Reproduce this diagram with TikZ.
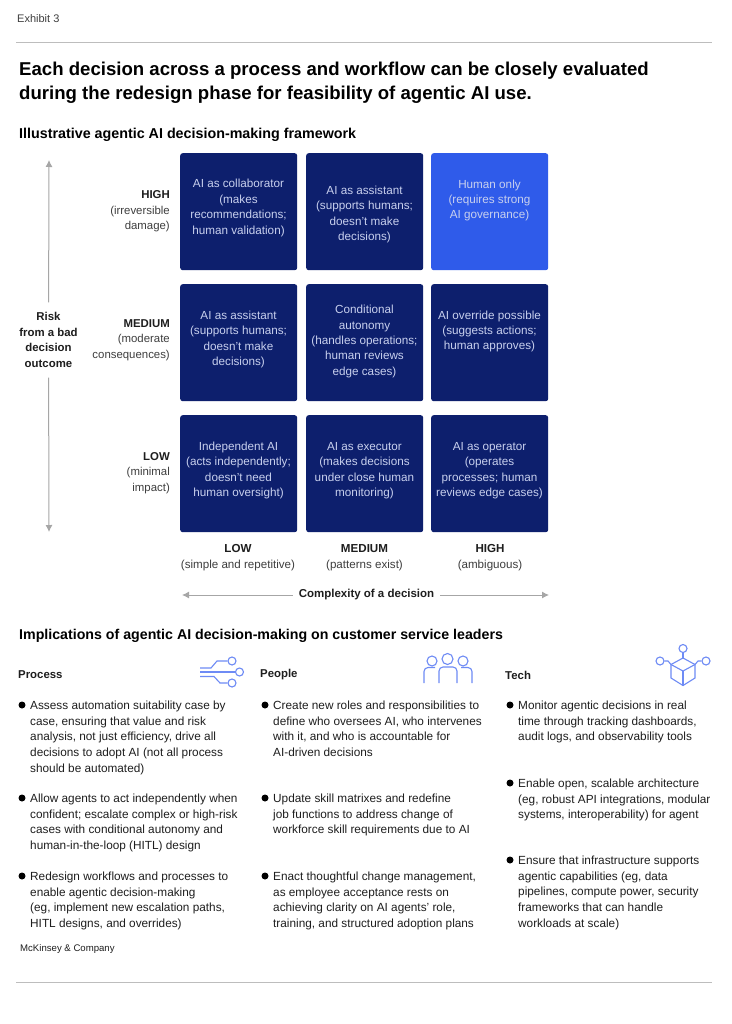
\documentclass[tikz,border=0pt]{standalone}
\usepackage{fontspec}
\setmainfont{Liberation Sans}
\usetikzlibrary{arrows.meta}
\definecolor{navy}{HTML}{0D1F6D}
\definecolor{brightblue}{HTML}{2F5BEA}
\definecolor{celltext}{HTML}{C8D0EE}
\definecolor{iconblue}{HTML}{6E8BF5}
\definecolor{ink}{HTML}{1E1E1E}
\definecolor{soft}{HTML}{3E3E3E}
\definecolor{rulegray}{HTML}{BDBDBD}
\definecolor{axisgray}{HTML}{A6A6A6}
\tikzset{
  cellbox/.style={fill=navy,rounded corners=2.5pt,minimum width=117pt,minimum height=117pt,inner sep=0pt,anchor=north west},
  celltxt/.style={text=celltext,align=center,inner sep=0pt,font=\fontsize{11.7}{15.45}\selectfont},
  rowlab/.style={text=soft,align=right,anchor=east,inner sep=0pt,font=\fontsize{11.4}{15.45}\selectfont},
  collab/.style={text=soft,align=center,inner sep=0pt,font=\fontsize{11.6}{16}\selectfont},
  bodytxt/.style={text=ink,align=left,anchor=north west,inner sep=0pt,font=\fontsize{11.8}{15.6}\selectfont},
  dot/.style={circle,fill=black,minimum size=7pt,inner sep=0pt},
  head/.style={text=black,align=left,anchor=west,inner sep=0pt,font=\fontsize{14.3}{18}\bfseries\selectfont},
  colhead/.style={text=ink,anchor=west,inner sep=0pt,font=\fontsize{11.4}{15}\bfseries\selectfont},
  axisline/.style={draw=axisgray,line width=1pt,-{Latex[length=7pt,width=7pt]}},
  iconline/.style={draw=iconblue,line width=1.1pt},
  iconring/.style={circle,draw=iconblue,line width=1.1pt,inner sep=0pt}
}
\begin{document}
\begin{tikzpicture}[x=1pt,y=-1pt]
\useasboundingbox (0,0) rectangle (731,1024);
\fill[white] (0,0) rectangle (731,1024);
% header
\node[anchor=west,inner sep=0pt,text=soft,font=\fontsize{11}{13}\selectfont] (exhibit) at (17,19) {Exhibit 3};
\coordinate (r1a) at (16,42.5); \coordinate (r1b) at (712,42.5);
\draw[rulegray,line width=0.7pt] (r1a) -- (r1b);
\node[anchor=north west,inner sep=0pt,align=left,text=black,font=\fontsize{18.6}{24.2}\bfseries\selectfont] (title) at (19,62) {Each decision across a process and workflow can be closely evaluated\\during the redesign phase for feasibility of agentic AI use.};
\node[head] (sec1) at (19,134.5) {Illustrative agentic AI decision-making framework};
% grid
\node[cellbox] (c11) at (180,153) {};
\node[cellbox] (c12) at (306,153) {};
\node[cellbox,fill=brightblue] (c13) at (431,153) {};
\node[cellbox] (c21) at (180,284) {};
\node[cellbox] (c22) at (306,284) {};
\node[cellbox] (c23) at (431,284) {};
\node[cellbox] (c31) at (180,415) {};
\node[cellbox] (c32) at (306,415) {};
\node[cellbox] (c33) at (431,415) {};
\node[celltxt] (t11) at (238.5,208) {AI as collaborator\\(makes\\recommendations;\\human validation)};
\node[celltxt] (t12) at (364.5,214.5) {AI as assistant\\(supports humans;\\doesn't make\\decisions)};
\node[celltxt] (t13) at (489.5,200.5) {Human only\\(requires strong\\AI governance)};
\node[celltxt] (t21) at (238.5,339.5) {AI as assistant\\(supports humans;\\doesn't make\\decisions)};
\node[celltxt] (t22) at (364.5,341.5) {Conditional\\autonomy\\(handles operations;\\human reviews\\edge cases)};
\node[celltxt] (t23) at (489.5,331.5) {AI override possible\\(suggests actions;\\human approves)};
\node[celltxt] (t31) at (238.5,470.5) {Independent AI\\(acts independently;\\doesn't need\\human oversight)};
\node[celltxt] (t32) at (364.5,470.5) {AI as executor\\(makes decisions\\under close human\\monitoring)};
\node[celltxt] (t33) at (489.5,470.5) {AI as operator\\(operates\\processes; human\\reviews edge cases)};
% row labels
\node[rowlab] (rh) at (170,211.5) {\textcolor{ink}{\bfseries HIGH}\\(irreversible\\damage)};
\node[rowlab] (rm) at (170,340) {\textcolor{ink}{\bfseries MEDIUM}\\(moderate\\consequences)};
\node[rowlab] (rl) at (170,473) {\textcolor{ink}{\bfseries LOW}\\(minimal\\impact)};
% column labels
\node[collab] (cl) at (238,558) {\textcolor{ink}{\bfseries LOW}\\(simple and repetitive)};
\node[collab] (cm) at (364.5,558) {\textcolor{ink}{\bfseries MEDIUM}\\(patterns exist)};
\node[collab] (ch) at (490,558) {\textcolor{ink}{\bfseries HIGH}\\(ambiguous)};
% axes
\node[align=center,text=ink,inner xsep=0pt,inner ysep=10pt,font=\fontsize{11.4}{15.45}\bfseries\selectfont] (risk) at (48.5,340) {Risk\\from a bad\\decision\\outcome};
\coordinate (rtop) at (49,160); \coordinate (rbot) at (49,532);
\draw[axisline] (risk) -- (rtop);
\draw[axisline] (risk) -- (rbot);
\node[text=ink,inner xsep=6pt,inner ysep=2pt,font=\fontsize{11.5}{15}\bfseries\selectfont] (cplx) at (366.5,595) {Complexity of a decision};
\coordinate (cleft) at (182,595); \coordinate (cright) at (549,595);
\draw[axisline] (cplx) -- (cleft);
\draw[axisline] (cplx) -- (cright);
% implications
\node[head,font=\fontsize{14.2}{18}\bfseries\selectfont] (sec2) at (19,635.5) {Implications of agentic AI decision-making on customer service leaders};
\node[colhead] (hproc) at (18,675) {Process};
\node[colhead] (hpeop) at (260,675) {People};
\node[colhead] (htech) at (505,675) {Tech};
% process icon
\node[iconring,minimum size=8pt] (pa) at (232,661) {};
\node[iconring,minimum size=8pt] (pb) at (239.5,672) {};
\node[iconring,minimum size=8pt] (pc) at (232,683) {};
\coordinate (pa0) at (200,668); \coordinate (pb0) at (200,672); \coordinate (pc0) at (200,676.5);
\draw[iconline] (pa0) -- (211,668) -- (217,661) -- (pa);
\draw[iconline] (pb0) -- (pb);
\draw[iconline] (pc0) -- (214,676.5) -- (220,683) -- (pc);
% people icon
\node[iconring,minimum size=10pt] (ua) at (432,661) {};
\node[iconring,minimum size=11pt] (ub) at (447.5,659) {};
\node[iconring,minimum size=10pt] (uc) at (463,661) {};
\draw[iconline,rounded corners=4pt] (424,683) -- (424,667.5) -- (435,667.5);
\draw[iconline,rounded corners=4pt] (439,683) -- (439,667) -- (457,667) -- (457,683);
\draw[iconline,rounded corners=4pt] (461,667.5) -- (472,667.5) -- (472,683);
% tech icon
\node[iconring,minimum size=8pt] (ka) at (683,648.5) {};
\node[iconring,minimum size=8pt] (kb) at (660,661) {};
\node[iconring,minimum size=8pt] (kc) at (706,661) {};
\coordinate (kt) at (683,658); \coordinate (kl) at (671,664.5); \coordinate (kr) at (695,664.5);
\coordinate (kc0) at (683,671); \coordinate (kd) at (683,685.5);
\draw[iconline] (kt) -- (kl) -- (671,678) -- (kd) -- (695,678) -- (kr) -- cycle;
\draw[iconline] (kl) -- (kc0) -- (kr);
\draw[iconline] (kc0) -- (kd);
\draw[iconline] (ka) -- (kt);
\draw[iconline] (kb) -- (668,661) -- (kl);
\draw[iconline] (kc) -- (698,661) -- (kr);
% process bullets
\node[dot] (b11) at (22,705) {};
\node[bodytxt] (x11) at (30,701) {Assess automation suitability case by\\case, ensuring that value and risk\\analysis, not just efficiency, drive all\\decisions to adopt AI (not all process\\should be automated)};
\node[dot] (b12) at (22,798) {};
\node[bodytxt] (x12) at (30,794) {Allow agents to act independently when\\confident; escalate complex or high-risk\\cases with conditional autonomy and\\human-in-the-loop (HITL) design};
\node[dot] (b13) at (22,876) {};
\node[bodytxt] (x13) at (30,872) {Redesign workflows and processes to\\enable agentic decision-making\\(eg, implement new escalation paths,\\HITL designs, and overrides)};
% people bullets
\node[dot] (b21) at (265,705) {};
\node[bodytxt] (x21) at (273,701) {Create new roles and responsibilities to\\define who oversees AI, who intervenes\\with it, and who is accountable for\\AI-driven decisions};
\node[dot] (b22) at (265,798) {};
\node[bodytxt] (x22) at (273,794) {Update skill matrixes and redefine\\job functions to address change of\\workforce skill requirements due to AI};
\node[dot] (b23) at (265,876) {};
\node[bodytxt] (x23) at (273,872) {Enact thoughtful change management,\\as employee acceptance rests on\\achieving clarity on AI agents' role,\\training, and structured adoption plans};
% tech bullets
\node[dot] (b31) at (510,705) {};
\node[bodytxt] (x31) at (518,701) {Monitor agentic decisions in real\\time through tracking dashboards,\\audit logs, and observability tools};
\node[dot] (b32) at (510,783) {};
\node[bodytxt] (x32) at (518,779) {Enable open, scalable architecture\\(eg, robust API integrations, modular\\systems, interoperability) for agent};
\node[dot] (b33) at (510,860) {};
\node[bodytxt] (x33) at (518,856) {Ensure that infrastructure supports\\agentic capabilities (eg, data\\pipelines, compute power, security\\frameworks that can handle\\workloads at scale)};
% footer
\node[anchor=west,inner sep=0pt,text=ink,font=\fontsize{9.6}{12}\selectfont] (brand) at (20,949) {McKinsey \& Company};
\coordinate (r2a) at (16,982); \coordinate (r2b) at (712,982);
\draw[rulegray,line width=0.7pt] (r2a) -- (r2b);
\end{tikzpicture}
\end{document}
